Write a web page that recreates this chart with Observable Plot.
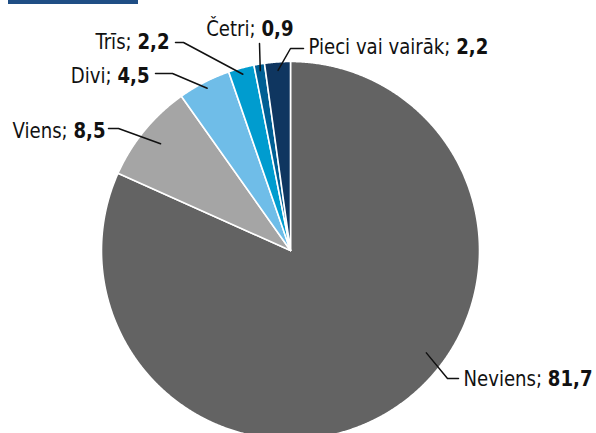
<!DOCTYPE html>
<html>
<head>
<meta charset="utf-8">
<script src="https://cdn.jsdelivr.net/npm/d3@7"></script>
<script src="https://cdn.jsdelivr.net/npm/@observablehq/plot@0.6"></script>
<style>
  html, body { margin: 0; padding: 0; background: #fff; }
  #wrap { position: relative; width: 596px; height: 433px; overflow: hidden; }
  #topbar { position: absolute; left: 8px; top: 0; width: 130px; height: 4px; background: #1f4e85; }
  svg { display: block; }
</style>
</head>
<body>
<div id="wrap"><div id="topbar"></div></div>
<script>
// ---- data ----
const categories = ["Neviens", "Viens", "Divi", "Trīs", "Četri", "Pieci vai vairāk"];
const values = [81.7, 8.5, 4.5, 2.2, 0.9, 2.2];
const valueLabels = ["81,7", "8,5", "4,5", "2,2", "0,9", "2,2"];
const colors = ["#636363", "#a5a5a5", "#6fbde8", "#009ccf", "#005f94", "#0f3660"];

// ---- layout ----
const W = 596, H = 433, CX = 290, CY = 250, R = 189;
const toUnit = ([px, py]) => [(px - CX) / R, (CY - py) / R];
const labelLayout = [
  {r: 0.90, angle: 127, elbow: [447, 378], end: [458, 378], text: [463, 378], anchor: "start"},
  {r: 0.89, angle: null, elbow: [118, 128], end: [108, 128], text: [105, 130], anchor: "end"},
  {r: 0.965, angle: null, elbow: [172, 73], end: [155, 73], text: [149, 75], anchor: "end"},
  {r: 0.966, angle: null, elbow: [183, 42], end: [175, 42], text: [169, 41], anchor: "end"},
  {r: 0.965, angle: null, elbow: null, end: [259, 43], text: [293, 28], anchor: "end"},
  {r: 0.955, angle: null, elbow: [290, 48], end: [303, 48], text: [308, 46], anchor: "start"}
];
const FONT_SIZE = 22, FONT_SCALE_X = 0.915;

const total = d3.sum(values);
let cum = 0;
const slices = categories.map((c, i) => {
  const a0 = cum / total * 360;
  cum += values[i];
  const a1 = cum / total * 360;
  return {key: c, a0, a1, mid: (a0 + a1) / 2};
});

const rad = a => a * Math.PI / 180;
const slicePoints = [];
for (const s of slices) {
  slicePoints.push({key: s.key, x: 0, y: 0});
  const n = Math.max(2, Math.ceil((s.a1 - s.a0) / 0.25));
  for (let k = 0; k <= n; k++) {
    const a = rad(s.a0 + (s.a1 - s.a0) * k / n);
    slicePoints.push({key: s.key, x: Math.sin(a), y: Math.cos(a)});
  }
  slicePoints.push({key: s.key, x: 0, y: 0});
}

const leaderPoints = [];
const labels = [];
slices.forEach((s, i) => {
  const L = labelLayout[i];
  const a = rad(L.angle ?? s.mid);
  leaderPoints.push({key: s.key, x: L.r * Math.sin(a), y: L.r * Math.cos(a)});
  if (L.elbow) { const [x, y] = toUnit(L.elbow); leaderPoints.push({key: s.key, x, y}); }
  { const [x, y] = toUnit(L.end); leaderPoints.push({key: s.key, x, y}); }
  const [tx, ty] = toUnit(L.text);
  labels.push({key: s.key, x: tx, y: ty, text: `${s.key}; ${valueLabels[i]}`, anchor: L.anchor});
});

const font = "'DejaVu Sans Condensed', 'DejaVu Sans', sans-serif";

const chart = Plot.plot({
  width: W,
  height: H,
  margin: 0,
  style: {fontFamily: font, fontSize: FONT_SIZE + "px", background: "#fff"},
  x: {domain: [-CX / R, (W - CX) / R], range: [0, W], axis: null},
  y: {domain: [-(H - CY) / R, CY / R], range: [H, 0], axis: null},
  color: {domain: categories, range: colors},
  marks: [
    Plot.line(slicePoints, {x: "x", y: "y", z: "key", fill: "key", stroke: "white", strokeWidth: 1.6, strokeLinejoin: "round"}),
    Plot.line(leaderPoints, {x: "x", y: "y", z: "key", stroke: "#111", strokeWidth: 1.5}),
    Plot.text(labels.filter(d => d.anchor === "start"), {x: "x", y: "y", text: "text", textAnchor: "start", fontSize: FONT_SIZE, fill: "#111"}),
    Plot.text(labels.filter(d => d.anchor === "end"), {x: "x", y: "y", text: "text", textAnchor: "end", fontSize: FONT_SIZE, fill: "#111"})
  ]
});

chart.querySelectorAll("text").forEach(t => {
  const s = t.textContent;
  const m = s.match(/^(.*; )(.*)$/);
  if (!m) return;
  t.textContent = "";
  const ns = "http://www.w3.org/2000/svg";
  const a = document.createElementNS(ns, "tspan");
  a.textContent = m[1];
  const b = document.createElementNS(ns, "tspan");
  b.textContent = m[2];
  b.setAttribute("font-weight", "bold");
  t.appendChild(a);
  t.appendChild(b);
  const tr = t.getAttribute("transform") || "";
  t.setAttribute("transform", `${tr} scale(${FONT_SCALE_X},1)`);
});

document.getElementById("wrap").prepend(chart);
</script>
</body>
</html>
